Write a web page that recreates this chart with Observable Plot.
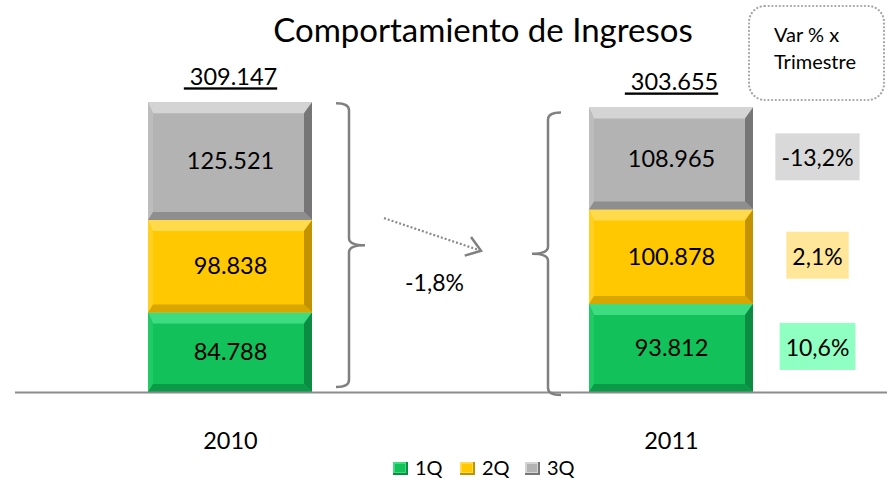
<!DOCTYPE html>
<html><head><meta charset="utf-8">
<script src="https://cdn.jsdelivr.net/npm/d3@7"></script>
<script src="https://cdn.jsdelivr.net/npm/@observablehq/plot@0.6"></script>
<style>body{margin:0;background:#fff} svg{display:block}</style>
</head><body><div id="chart"></div>
<script>
const years = ["2010", "2011"];
const quarters = ["1Q", "2Q", "3Q"];
const values2010 = [84788, 98838, 125521];
const values2011 = [93812, 100878, 108965];
const totals = [309147, 303655];
const totalLabels = [" 309.147", " 303.655"];
const varLabels = ["10,6%", "2,1%", "-13,2%"];
const yearChange = "-1,8%";
const titleText = "Comportamiento de Ingresos";
const boxLines = ["Var % x", "Trimestre"];

const palette = {
  "1Q": {main: "#12C15A", top: "#3EDC80", left: "#20CB66", right: "#0B8C42", bottom: "#0A9A48"},
  "2Q": {main: "#FFC800", top: "#FFDA4D", left: "#FFD020", right: "#C29200", bottom: "#D9A600"},
  "3Q": {main: "#B3B3B3", top: "#D4D4D4", left: "#BDBDBD", right: "#767676", bottom: "#8E8E8E"}
};
const varBg = {"1Q": "#8FFFC2", "2Q": "#FFE699", "3Q": "#D9D9D9"};

const FONT = "Lato, 'Noto Sans', sans-serif";
const fmt = d3.formatLocale({decimal: ",", thousands: ".", grouping: [3], currency: ["", ""]}).format(",d");

const series = {"2010": values2010, "2011": values2011};
const rows = [];
for (const yr of years) {
  let acc = 0;
  series[yr].forEach((v, i) => {
    rows.push({year: yr, q: quarters[i], value: v, y1: acc, y2: acc + v, mid: acc + v / 2});
    acc += v;
  });
}
const totalRows = years.map((yr, i) => ({year: yr, total: totals[i], label: totalLabels[i]}));
const varRows = rows.filter(d => d.year === "2011").map((d, i) => ({...d, label: varLabels[i]}));

const chart = Plot.plot({
  width: 887,
  height: 484,
  marginTop: 64,
  marginBottom: 92,
  marginLeft: 15,
  marginRight: 0,
  x: {type: "band", domain: years, paddingInner: 0.627, paddingOuter: 0.3, axis: null},
  y: {domain: [0, 350000], axis: null},
  color: {type: "identity"},
  style: {fontFamily: FONT, background: "#fff"},
  marks: [
    Plot.barY(rows, {x: "year", y1: "y1", y2: "y2", fill: d => palette[d.q].main}),
    Plot.ruleY([0], {stroke: "#8c8c8c", strokeWidth: 2}),
    Plot.text(rows, {x: "year", y: "mid", text: d => fmt(d.value), fill: "#000", fontSize: 23.5}),
    Plot.text(totalRows, {x: "year", y: "total", text: "label", dy: -25, fill: "#000", fontSize: 23.5}),
    Plot.text(years, {x: d => d, y: () => 0, text: d => d, dy: 49, fill: "#000", fontSize: 23.5}),
    Plot.text(varRows, {x: "year", y: "mid", text: "label", dx: 146, fill: "#000", fontSize: 23})
  ]
});
document.getElementById("chart").appendChild(chart);

const svg = d3.select(chart);
const xs = chart.scale("x"), ys = chart.scale("y");
const bw = xs.bandwidth;
const X = v => xs.apply(v), Y = v => ys.apply(v);

// bevel on each bar segment (geometry)
svg.selectAll("g[aria-label='bar'] rect").each(function(d, i) {
  const r = rows[i]; if (!r) return;
  const p = palette[r.q];
  const x0 = +this.getAttribute("x"), y0 = +this.getAttribute("y");
  const w = +this.getAttribute("width"), h = +this.getAttribute("height");
  const x1 = x0 + w, y1 = y0 + h;
  const bt = 11, bl = 5, br = 8, bb = 8;
  const g = d3.select(this.parentNode).append("g");
  const poly = (pts, c) => g.append("polygon").attr("points", pts.map(q => q.join(",")).join(" ")).attr("fill", c);
  poly([[x0, y0], [x1, y0], [x1 - br, y0 + bt], [x0 + bl, y0 + bt]], p.top);
  poly([[x0, y0], [x0 + bl, y0 + bt], [x0 + bl, y1 - bb], [x0, y1]], p.left);
  poly([[x1, y0], [x1, y1], [x1 - br, y1 - bb], [x1 - br, y0 + bt]], p.right);
  poly([[x0, y1], [x0 + bl, y1 - bb], [x1 - br, y1 - bb], [x1, y1]], p.bottom);
});
// keep the bar labels on top
svg.selectAll("g[aria-label='text']").raise();

// underline totals
svg.selectAll("text").filter(function() { return totalLabels.includes(this.textContent); })
  .style("text-decoration", "underline").attr("xml:space", "preserve").style("white-space", "pre");

// backgrounds for variation labels
svg.selectAll("text").filter(function() { return varLabels.includes(this.textContent); }).each(function() {
  const b = this.getBBox();
  const q = varRows.find(v => v.label === this.textContent).q;
  const rect = d3.select(this.parentNode).insert("rect", () => this)
    .attr("x", b.x - 6).attr("y", b.y - 10).attr("width", b.width + 12).attr("height", b.height + 19)
    .attr("fill", varBg[q]);
  const tr = this.getAttribute("transform");
  if (tr) rect.attr("transform", tr);
});

const ann = svg.append("g").attr("text-anchor", "start");
// brace right of 2010
const xr = X("2010") + bw + 37;
const yt0 = Y(totals[0]) + 1, yb0 = Y(0) - 5, ym0 = (yt0 + yb0) / 2;
ann.append("path")
  .attr("d", `M${xr-13},${yt0} Q${xr},${yt0} ${xr},${yt0+7} L${xr},${ym0-7} Q${xr},${ym0} ${xr+16},${ym0} Q${xr},${ym0} ${xr},${ym0+7} L${xr},${yb0-7} Q${xr},${yb0} ${xr-13},${yb0}`)
  .attr("fill", "none").attr("stroke", "#808080").attr("stroke-width", 2.5);
// brace left of 2011
const xl = X("2011") - 41;
const yt1 = Y(totals[1]) + 5, yb1 = Y(0) + 3, ym1 = (yt1 + yb1) / 2;
ann.append("path")
  .attr("d", `M${xl+13},${yt1} Q${xl},${yt1} ${xl},${yt1+7} L${xl},${ym1-7} Q${xl},${ym1} ${xl-16},${ym1} Q${xl},${ym1} ${xl},${ym1+7} L${xl},${yb1-7} Q${xl},${yb1} ${xl+13},${yb1}`)
  .attr("fill", "none").attr("stroke", "#808080").attr("stroke-width", 2.5);

// dotted arrow
const ax1 = xr + 35, ay1 = ym0 - 27, ax2 = xl - 67, ay2 = ym1 - 3;
ann.append("line").attr("x1", ax1).attr("y1", ay1).attr("x2", ax2 - 2).attr("y2", ay2 - 0.6)
  .attr("stroke", "#8a8a8a").attr("stroke-width", 2.2).attr("stroke-dasharray", "2,2");
const ang = Math.atan2(ay2 - ay1, ax2 - ax1);
const hl = 17, ha = 0.62;
ann.append("path")
  .attr("d", `M${ax2 - hl*Math.cos(ang-ha)},${ay2 - hl*Math.sin(ang-ha)} L${ax2},${ay2} L${ax2 - hl*Math.cos(ang+ha)},${ay2 - hl*Math.sin(ang+ha)}`)
  .attr("fill", "none").attr("stroke", "#808080").attr("stroke-width", 2.5);
ann.append("text").attr("x", (ax1 + ax2) / 2 + 2).attr("y", ym0 + 38).attr("dy", "0.35em")
  .attr("text-anchor", "middle").attr("font-size", 23).attr("fill", "#000").text(yearChange);

// title
ann.append("text").attr("x", 483).attr("y", 42).attr("text-anchor", "middle")
  .attr("font-size", 33).attr("fill", "#000").text(titleText);

// Var % box
ann.append("rect").attr("x", 749).attr("y", 6).attr("width", 135).attr("height", 94).attr("rx", 16)
  .attr("fill", "none").attr("stroke", "#a6a6a6").attr("stroke-width", 2.2)
  .attr("stroke-dasharray", "0.1,3.6").attr("stroke-linecap", "round");
boxLines.forEach((t, i) => {
  ann.append("text").attr("x", 774).attr("y", 42 + i * 27).attr("font-size", 20).attr("fill", "#000").text(t);
});

// legend
const legX = [393, 460, 525];
quarters.forEach((q, i) => {
  const g = ann.append("g");
  const p = palette[q];
  g.append("rect").attr("x", legX[i]).attr("y", 462).attr("width", 15).attr("height", 13).attr("fill", p.right);
  g.append("rect").attr("x", legX[i]).attr("y", 462).attr("width", 13).attr("height", 11).attr("fill", p.top);
  g.append("rect").attr("x", legX[i] + 2).attr("y", 464).attr("width", 10).attr("height", 8).attr("fill", p.main);
  g.append("text").attr("x", legX[i] + 22).attr("y", 468).attr("dy", "0.35em").attr("font-size", 20).attr("fill", "#000").text(q);
});
</script></body></html>
